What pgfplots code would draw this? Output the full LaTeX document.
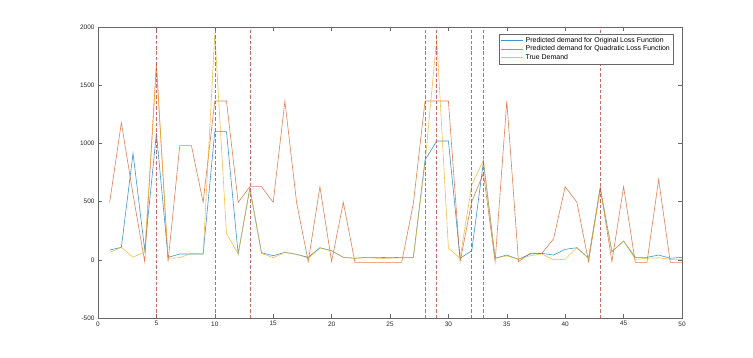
\documentclass[border=0pt]{standalone}
\usepackage{fontspec}
\setmainfont{Liberation Sans}
\usepackage{pgfplots}
\pgfplotsset{compat=1.18}
\definecolor{mblue}{HTML}{0072BD}
\definecolor{morange}{HTML}{D95319}
\definecolor{myellow}{HTML}{EDB120}
\definecolor{vred}{HTML}{C0504D}
\definecolor{axgray}{HTML}{262626}

\begin{document}
\begin{tikzpicture}
\path[use as bounding box] (0,0) rectangle (753bp,358bp);
\begin{axis}[
  scale only axis, width=584bp, height=291bp,
  at={(98bp,40bp)}, anchor=south west,
  xmin=0, xmax=50, ymin=-500, ymax=2000,
  xtick={0,5,...,50}, ytick={-500,0,...,2000},
  tick align=inside, xtick pos=both, ytick pos=both,
  major tick length=4bp,
  axis line style={axgray!70, line width=0.5pt},
  tick style={axgray!70, line width=0.4pt},
  tick label style={font=\fontsize{6.5}{7}\selectfont, text=axgray},
  /pgf/number format/assume math mode=true,
  scaled ticks=false,
  /pgf/number format/1000 sep={},
  legend cell align=left,
  legend style={at={(0.985,0.976)}, anchor=north east, draw=axgray!70,
    font=\fontsize{7}{8}\selectfont, inner sep=1.2pt, row sep=-2pt,
    /tikz/every even column/.append style={column sep=1pt}},
  legend image code/.code={\draw[#1, line width=0.6pt] (0cm,0cm) -- (0.8cm,0cm);},
  every axis plot/.append style={line width=0.6pt},
]
\addplot[mblue, opacity=0.75] coordinates {
 (1,84) (2,107) (3,915) (4,84) (5,1087) (6,21) (7,50) (8,50) (9,50) (10,1101)
 (11,1101) (12,50) (13,614) (14,61) (15,35) (16,64) (17,47) (18,21) (19,104) (20,78)
 (21,21) (22,13) (23,21) (24,21) (25,18) (26,21) (27,21) (28,857) (29,1021) (30,1021)
 (31,13) (32,78) (33,843) (34,13) (35,41) (36,4) (37,50) (38,55) (39,41) (40,90)
 (41,104) (42,13) (43,614) (44,70) (45,161) (46,21) (47,21) (48,41) (49,13) (50,21)};
\addlegendentry{Predicted demand for Original Loss Function}
\addplot[morange, opacity=0.75] coordinates {
 (1,494) (2,1178) (3,560) (4,-16) (5,1688) (6,-16) (7,981) (8,981) (9,494) (10,1364)
 (11,1364) (12,494) (13,628) (14,628) (15,494) (16,1364) (17,494) (18,-16) (19,628) (20,-16)
 (21,494) (22,-22) (23,-22) (24,-22) (25,-22) (26,-22) (27,485) (28,1364) (29,1364) (30,1364)
 (31,-16) (32,500) (33,743) (34,-16) (35,1364) (36,-16) (37,56) (38,56) (39,179) (40,628)
 (41,494) (42,-16) (43,623) (44,-16) (45,628) (46,-22) (47,-22) (48,691) (49,-22) (50,-22)};
\addlegendentry{Predicted demand for Quadratic Loss Function}
\addplot[myellow, opacity=0.8] coordinates {
 (1,64) (2,107) (3,21) (4,70) (5,1660) (6,13) (7,18) (8,55) (9,50) (10,1946)
 (11,227) (12,50) (13,614) (14,55) (15,18) (16,64) (17,47) (18,13) (19,100) (20,78)
 (21,21) (22,13) (23,18) (24,13) (25,13) (26,18) (27,18) (28,829) (29,1903) (30,100)
 (31,13) (32,643) (33,857) (34,13) (35,33) (36,4) (37,35) (38,50) (39,0) (40,4)
 (41,104) (42,13) (43,605) (44,70) (45,161) (46,4) (47,13) (48,18) (49,4) (50,4)};
\addlegendentry{True Demand}
\pgfplotsinvokeforeach{5,10,13,28,29,32,33,43}{
  \addplot[vred, opacity=0.85, line width=0.55pt, dash pattern=on 3.5pt off 2pt, forget plot]
    coordinates {(#1,-500) (#1,2000)};
}
\end{axis}
\end{tikzpicture}
\end{document}
